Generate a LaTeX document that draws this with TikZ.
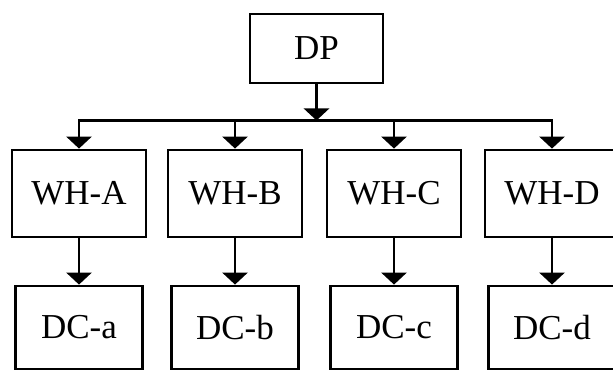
\documentclass[tikz,border=0pt]{standalone}
\usepackage{fontspec}
\setmainfont{Liberation Serif}
\usetikzlibrary{arrows.meta}
\begin{document}
\begin{tikzpicture}[x=1pt,y=1pt,
  box/.style={draw=black, line width=2.8pt, inner sep=0pt, font=\fontsize{35}{38}\selectfont},
  whbox/.style={box, minimum width=134pt, minimum height=87pt},
  dcbox/.style={box, minimum width=127pt, minimum height=83pt},
  tip/.style={-{Triangle[width=25pt,length=12pt]}},
  conn/.style={line width=2.8pt, line join=miter, black}]
\useasboundingbox (0,0) rectangle (613,371);
\clip (0,0) rectangle (613,371);
\node[box, minimum width=133pt, minimum height=69pt] (dp) at (316.5,322.5) {DP};
\node[whbox] (wha) at (79,177.5) {WH-A};
\node[whbox] (whb) at (235,177.5) {WH-B};
\node[whbox] (whc) at (394,177.5) {WH-C};
\node[whbox] (whd) at (552,177.5) {WH-D};
\node[dcbox] (dca) at (79,43.5) {DC-a};
\node[dcbox] (dcb) at (235,43.5) {DC-b};
\node[dcbox] (dcc) at (394,43.5) {DC-c};
\node[dcbox] (dcd) at (552,43.5) {DC-d};
\coordinate (bus) at (316.5,250.5);
\draw[conn, tip] (dp.south) -- (dp.south |- bus);
\draw[conn, {Triangle[width=25pt,length=12pt]}-{Triangle[width=25pt,length=12pt]}]
  (wha.north) -- (wha.north |- bus) -- (whd.north |- bus) -- (whd.north);
\draw[conn, tip] (whb.north |- bus) -- (whb.north);
\draw[conn, tip] (whc.north |- bus) -- (whc.north);
\draw[conn, tip] (wha.south) -- (dca.north);
\draw[conn, tip] (whb.south) -- (dcb.north);
\draw[conn, tip] (whc.south) -- (dcc.north);
\draw[conn, tip] (whd.south) -- (dcd.north);
\end{tikzpicture}
\end{document}
